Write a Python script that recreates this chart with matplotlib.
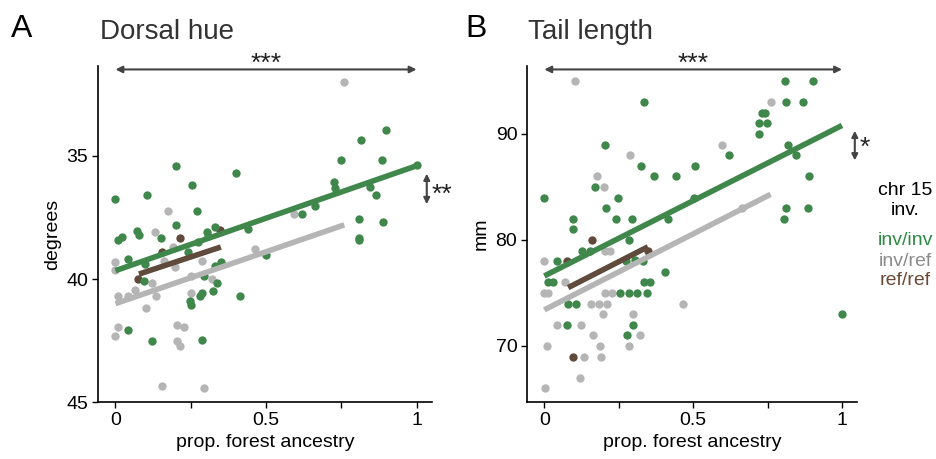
import matplotlib
matplotlib.use('Agg')
import matplotlib.pyplot as plt
from matplotlib.ticker import FixedLocator

plt.rcParams['font.family'] = ['Liberation Sans', 'DejaVu Sans']

GREEN = '#3f874b'
GREY = '#b5b5b5'
BROWN = '#5f4a3c'

# 背部色调 (Dorsal hue)
hue_inv_x = [0.0, 0.01, 0.023, 0.04, 0.073, 0.078, 0.106, 0.15, 0.097, 0.094, 0.04, 0.12,
             0.2, 0.2, 0.255, 0.27, 0.24, 0.275, 0.305, 0.308, 0.33, 0.352, 0.33, 0.295,
             0.247, 0.25, 0.286, 0.28, 0.324, 0.336, 0.286, 0.4, 0.413, 0.44, 0.5, 0.618,
             0.663, 0.725, 0.73, 0.748, 0.81, 0.81, 0.81, 0.817, 0.845, 0.867, 0.884, 0.89,
             0.9, 1.0]
hue_inv_y = [36.73, 38.4, 38.3, 39.2, 38.04, 38.2, 36.6, 38.35, 39.4, 40.1, 42.07, 42.5,
             35.4, 37.8, 36.2, 37.24, 38.9, 38.5, 38.1, 38.24, 37.9, 39.3, 39.46, 39.86,
             40.9, 41.04, 40.57, 40.7, 40.5, 40.16, 42.46, 35.7, 40.7, 37.95, 39.03, 37.34,
             37.04, 36.05, 36.3, 35.16, 37.55, 38.34, 38.42, 34.36, 36.28, 36.6, 35.15, 37.7,
             33.96, 35.38]
hue_het_x = [0.0, 0.0, 0.01, 0.04, 0.0, 0.01, 0.066, 0.1, 0.12, 0.133, 0.13, 0.175, 0.16,
             0.19, 0.197, 0.206, 0.228, 0.206, 0.214, 0.153, 0.293, 0.286, 0.25, 0.25, 0.32,
             0.463, 0.594, 0.76]
hue_het_y = [39.32, 39.64, 40.68, 40.68, 42.3, 41.93, 40.43, 41.18, 40.18, 40.7, 38.07,
             37.24, 39.26, 38.7, 39.53, 41.86, 41.96, 42.5, 42.74, 44.35, 44.43, 39.26,
             39.86, 40.57, 40.0, 38.8, 37.34, 32.0]
hue_ref_x = [0.214, 0.347, 0.153, 0.075]
hue_ref_y = [38.32, 38.0, 38.9, 40.0]
hue_fit_inv = ([0.0, 1.0], [39.66, 35.4])
hue_fit_het = ([0.0, 0.76], [41.0, 37.8])
hue_fit_ref = ([0.078, 0.35], [39.8, 38.7])

# 尾长 (Tail length)
tail_inv_x = [0.0, 0.011, 0.028, 0.041, 0.08, 0.107, 0.076, 0.098, 0.098, 0.127, 0.152,
              0.171, 0.205, 0.207, 0.249, 0.242, 0.293, 0.286, 0.253, 0.286, 0.31, 0.273,
              0.306, 0.326, 0.334, 0.334, 0.354, 0.346, 0.33, 0.298, 0.279, 0.37, 0.404,
              0.414, 0.442, 0.503, 0.506, 0.62, 0.722, 0.749, 0.722, 0.732, 0.74, 0.81,
              0.813, 0.819, 0.846, 0.804, 0.813, 0.868, 0.904, 0.89, 0.886, 1.0]
tail_inv_y = [84, 76, 76, 78, 74, 74, 72, 82, 81, 79, 79, 85, 89, 83, 84, 82, 82, 80, 75,
              75, 75, 78, 78.1, 87, 93, 76, 76, 75, 78, 72, 71, 86, 77, 82, 86, 84, 87, 88,
              91, 91, 90, 92, 92, 95, 93, 89, 88, 82, 83, 93, 95, 86, 83, 73]
tail_het_x = [0.102, 0.288, 0.176, 0.201, 0.205, 0.22, 0.0, 0.0, 0.011, 0.069, 0.043, 0.124,
              0.157, 0.185, 0.21, 0.205, 0.229, 0.198, 0.163, 0.187, 0.008, 0.133, 0.192,
              0.119, 0.002, 0.298, 0.32, 0.286, 0.465, 0.597, 0.762, 0.663]
tail_het_y = [95, 88, 86, 85, 79, 79, 78, 75, 75, 76, 72, 72, 74, 74, 74, 75, 75, 73, 71,
              70, 70, 69, 69, 67, 66, 73, 71, 70, 74, 89, 93, 83]
tail_ref_x = [0.159, 0.076, 0.096, 0.348]
tail_ref_y = [80, 78, 69, 79]
tail_fit_inv = ([0.0, 1.0], [76.6, 90.8])
tail_fit_het = ([0.0, 0.76], [73.4, 84.3])
tail_fit_ref = ([0.08, 0.348], [75.5, 79.35])

fig = plt.figure(figsize=(9.37, 4.59), dpi=100)
axA = fig.add_axes([0.1046, 0.124, 0.356, 0.732])
axB = fig.add_axes([0.5625, 0.124, 0.352, 0.732])


def draw_panel(ax, inv, het, ref, fits, ylim, yticks, ylabel):
    ax.scatter(het[0], het[1], s=36, color=GREY, lw=0, zorder=2)
    ax.scatter(ref[0], ref[1], s=36, color=BROWN, lw=0, zorder=2)
    ax.scatter(inv[0], inv[1], s=36, color=GREEN, lw=0, zorder=2)
    for (fx, fy), c in zip(fits, [GREEN, GREY, BROWN]):
        ax.plot(fx, fy, color=c, lw=4, solid_capstyle='butt', zorder=3)
    ax.set_xlim(-0.058, 1.05)
    ax.set_ylim(*ylim)
    ax.set_xticks([0, 0.5, 1])
    ax.set_xticklabels(['0', '0.5', '1'])
    ax.xaxis.set_minor_locator(FixedLocator([0.25, 0.75]))
    ax.set_yticks(yticks)
    ax.tick_params(labelsize=14, length=4, width=1, colors='black', pad=3)
    ax.tick_params(which='minor', length=4, width=1)
    for s in ['top', 'right']:
        ax.spines[s].set_visible(False)
    for s in ['left', 'bottom']:
        ax.spines[s].set_linewidth(1.2)
    ax.set_xlabel('prop. forest ancestry', fontsize=14, labelpad=4)
    ax.set_ylabel(ylabel, fontsize=14)
    # 顶部双向箭头
    ax.annotate('', xy=(0, 0.99), xytext=(1, 0.99),
                xycoords=('data', 'axes fraction'),
                arrowprops=dict(arrowstyle='<|-|>', color='#444444', lw=1.5,
                                mutation_scale=10, shrinkA=0, shrinkB=0),
                annotation_clip=False)
    ax.text(0.5, 0.97, '***', transform=ax.get_xaxis_transform(), ha='center',
            va='bottom', fontsize=19, color='#222222')


draw_panel(axA, (hue_inv_x, hue_inv_y), (hue_het_x, hue_het_y), (hue_ref_x, hue_ref_y),
           [hue_fit_inv, hue_fit_het, hue_fit_ref], (45, 31.35), [35, 40, 45], 'degrees')
draw_panel(axB, (tail_inv_x, tail_inv_y), (tail_het_x, tail_het_y), (tail_ref_x, tail_ref_y),
           [tail_fit_inv, tail_fit_het, tail_fit_ref], (64.7, 96.4), [70, 80, 90], 'mm')

# 右侧差异箭头
axA.annotate('', xy=(1.034, 35.72), xytext=(1.034, 36.96),
             arrowprops=dict(arrowstyle='<|-|>', color='#444444', lw=1.5,
                             mutation_scale=9, shrinkA=0, shrinkB=0),
             annotation_clip=False)
axA.text(1.05, 36.6, '**', fontsize=19, ha='left', va='center', color='#222222')
axB.annotate('', xy=(1.043, 90.3), xytext=(1.043, 87.5),
             arrowprops=dict(arrowstyle='<|-|>', color='#444444', lw=1.5,
                             mutation_scale=9, shrinkA=0, shrinkB=0),
             annotation_clip=False)
axB.text(1.06, 88.7, '*', fontsize=19, ha='left', va='center', color='#222222')

# 标题
fig.text(0.012, 0.92, 'A', fontsize=23, color='black')
fig.text(0.107, 0.915, 'Dorsal hue', fontsize=20, color='#333333')
fig.text(0.497, 0.92, 'B', fontsize=23, color='black')
fig.text(0.563, 0.915, 'Tail length', fontsize=20, color='#333333')

# 图例
legend_x = 0.966
fig.text(legend_x, 0.584, 'chr 15', fontsize=14, ha='center', va='center', color='black')
fig.text(legend_x, 0.542, 'inv.', fontsize=14, ha='center', va='center', color='black')
fig.text(legend_x, 0.475, 'inv/inv', fontsize=14, ha='center', va='center', color='#2f8a45')
fig.text(legend_x, 0.431, 'inv/ref', fontsize=14, ha='center', va='center', color='#8c8c8c')
fig.text(legend_x, 0.388, 'ref/ref', fontsize=14, ha='center', va='center', color='#6b4a35')

fig.savefig('out.png', dpi=100)
